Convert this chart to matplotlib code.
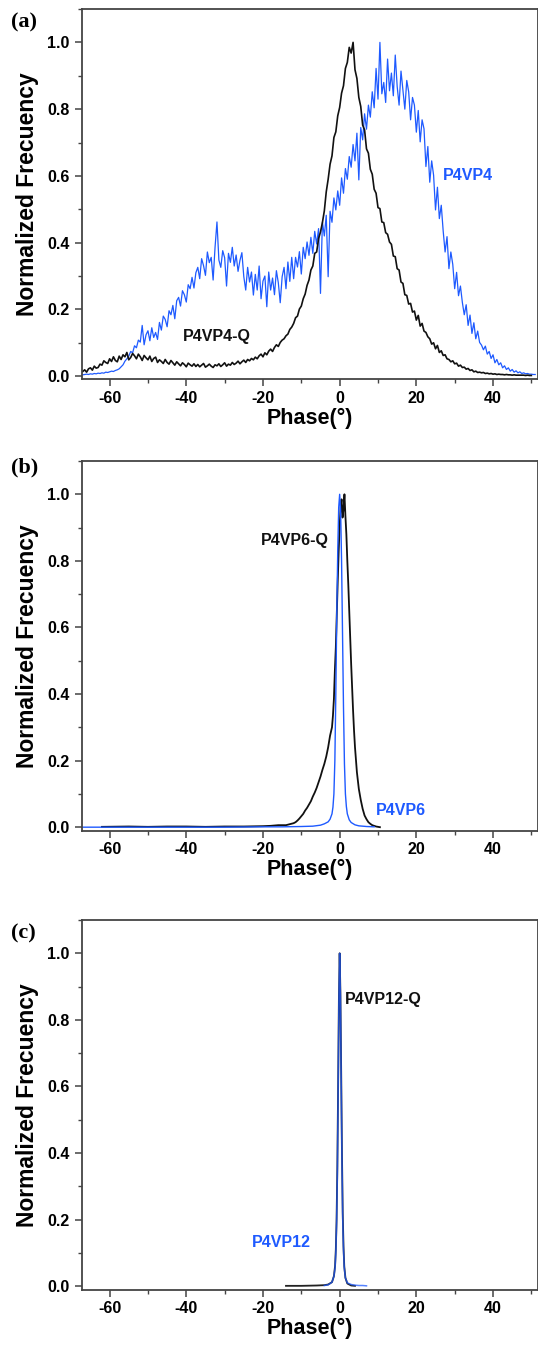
import numpy as np
import matplotlib
matplotlib.use("Agg")
import matplotlib.pyplot as plt
from matplotlib.ticker import MultipleLocator

plt.rcParams['font.family'] = ['Liberation Sans', 'DejaVu Sans']
plt.rcParams['axes.unicode_minus'] = False

BLUE = '#1E5AFF'
BLACK = '#111111'

# ---------------- panel (a): P4VP4 and P4VP4-Q phase histograms ----------------
a_q_start, a_q_step = -67.0, 0.5
a_q_freq = [
    0.014, 0.019, 0.012, 0.022, 0.025, 0.018, 0.030, 0.024, 0.026, 0.036,
    0.033, 0.046, 0.041, 0.038, 0.052, 0.044, 0.058, 0.047, 0.043, 0.060,
    0.050, 0.064, 0.058, 0.071, 0.049, 0.056, 0.068, 0.061, 0.052, 0.066,
    0.058, 0.047, 0.062, 0.055, 0.049, 0.060, 0.044, 0.053, 0.057, 0.041,
    0.049, 0.044, 0.038, 0.050, 0.041, 0.036, 0.047, 0.040, 0.033, 0.043,
    0.037, 0.031, 0.040, 0.035, 0.028, 0.039, 0.034, 0.030, 0.037, 0.029,
    0.035, 0.028, 0.033, 0.038, 0.027, 0.031, 0.036, 0.030, 0.026, 0.034,
    0.031, 0.037, 0.029, 0.034, 0.040, 0.030, 0.036, 0.033, 0.041, 0.035,
    0.039, 0.045, 0.037, 0.043, 0.048, 0.041, 0.050, 0.046, 0.053, 0.049,
    0.057, 0.052, 0.061, 0.066, 0.058, 0.070, 0.064, 0.075, 0.081, 0.074,
    0.086, 0.094, 0.089, 0.101, 0.108, 0.112, 0.121, 0.126, 0.140, 0.147,
    0.158, 0.175, 0.180, 0.201, 0.210, 0.232, 0.246, 0.272, 0.288, 0.318,
    0.330, 0.368, 0.372, 0.412, 0.432, 0.460, 0.495, 0.552, 0.590, 0.635,
    0.660, 0.715, 0.732, 0.780, 0.805, 0.848, 0.870, 0.922, 0.940, 0.985,
    0.968, 1.000, 0.918, 0.892, 0.835, 0.808, 0.752, 0.738, 0.681, 0.668,
    0.620, 0.605, 0.560, 0.548, 0.505, 0.502, 0.462, 0.460, 0.430, 0.425,
    0.402, 0.395, 0.360, 0.358, 0.322, 0.318, 0.282, 0.278, 0.244, 0.242,
    0.216, 0.218, 0.192, 0.195, 0.168, 0.182, 0.150, 0.158, 0.135, 0.131,
    0.118, 0.112, 0.096, 0.100, 0.082, 0.092, 0.071, 0.076, 0.062, 0.064,
    0.052, 0.050, 0.043, 0.046, 0.037, 0.039, 0.030, 0.033, 0.026, 0.027,
    0.021, 0.023, 0.017, 0.019, 0.013, 0.015, 0.011, 0.012, 0.010, 0.011,
    0.008, 0.009, 0.007, 0.008, 0.006, 0.007, 0.005, 0.006, 0.005, 0.005,
    0.004, 0.005, 0.004, 0.004, 0.003, 0.004, 0.003, 0.003, 0.003, 0.003,
    0.003, 0.002, 0.003, 0.002, 0.002,
]

a_p_start, a_p_step = -67.0, 0.5
a_p_freq = [
    0.004, 0.005, 0.006, 0.005, 0.007, 0.006, 0.008, 0.007, 0.009, 0.008,
    0.010, 0.009, 0.012, 0.011, 0.013, 0.015, 0.014, 0.017, 0.019, 0.022,
    0.028, 0.034, 0.045, 0.052, 0.060, 0.074, 0.070, 0.091, 0.085, 0.108,
    0.102, 0.152, 0.094, 0.124, 0.136, 0.106, 0.145, 0.116, 0.131, 0.110,
    0.161, 0.138, 0.180, 0.170, 0.148, 0.196, 0.184, 0.212, 0.172, 0.226,
    0.236, 0.210, 0.256, 0.244, 0.222, 0.274, 0.262, 0.296, 0.264, 0.310,
    0.326, 0.292, 0.352, 0.331, 0.302, 0.372, 0.340, 0.356, 0.288, 0.386,
    0.462, 0.348, 0.326, 0.376, 0.355, 0.270, 0.368, 0.341, 0.386, 0.330,
    0.363, 0.314, 0.347, 0.370, 0.298, 0.258, 0.326, 0.282, 0.312, 0.243,
    0.305, 0.258, 0.330, 0.232, 0.285, 0.300, 0.208, 0.312, 0.258, 0.294,
    0.244, 0.316, 0.280, 0.220, 0.298, 0.326, 0.262, 0.342, 0.284, 0.356,
    0.292, 0.356, 0.327, 0.373, 0.306, 0.386, 0.352, 0.402, 0.362, 0.416,
    0.368, 0.434, 0.396, 0.442, 0.248, 0.462, 0.420, 0.482, 0.298, 0.494,
    0.461, 0.534, 0.498, 0.555, 0.512, 0.594, 0.548, 0.622, 0.590, 0.658,
    0.626, 0.694, 0.645, 0.728, 0.588, 0.745, 0.708, 0.786, 0.740, 0.812,
    0.776, 0.852, 0.804, 0.922, 0.830, 1.000, 0.846, 0.880, 0.820, 0.950,
    0.855, 0.908, 0.840, 0.962, 0.868, 0.812, 0.914, 0.856, 0.800, 0.886,
    0.852, 0.768, 0.835, 0.812, 0.731, 0.796, 0.702, 0.768, 0.741, 0.628,
    0.688, 0.581, 0.645, 0.602, 0.498, 0.566, 0.472, 0.512, 0.435, 0.372,
    0.418, 0.322, 0.372, 0.335, 0.262, 0.311, 0.241, 0.270, 0.221, 0.184,
    0.214, 0.152, 0.183, 0.128, 0.160, 0.112, 0.135, 0.101, 0.093, 0.079,
    0.090, 0.066, 0.074, 0.053, 0.064, 0.040, 0.050, 0.034, 0.040, 0.025,
    0.031, 0.020, 0.025, 0.015, 0.020, 0.012, 0.016, 0.010, 0.013, 0.008,
    0.010, 0.007, 0.008, 0.006, 0.006, 0.005, 0.005,
]

# ---------------- panel (b): P4VP6 and P4VP6-Q ----------------
b_q_phase = [-62, -55, -50, -45, -40, -35, -30, -25, -20, -18, -16, -14, -13, -12,
             -11.5, -11, -10.5, -10, -9.5, -9, -8.5, -8, -7.5, -7, -6.5, -6, -5.5,
             -5, -4.5, -4, -3.5, -3, -2.5, -2, -1.75, -1.5, -1.25, -1, -0.75, -0.5,
             -0.25, 0, 0.25, 0.5, 0.75, 1, 1.25, 1.5, 1.75, 2, 2.25, 2.5, 2.75, 3,
             3.25, 3.5, 3.75, 4, 4.5, 5, 5.5, 6, 6.5, 7, 7.5, 8, 8.5, 9, 9.5, 10, 10.5]
b_q_freq = [0.001, 0.002, 0.001, 0.002, 0.002, 0.001, 0.002, 0.002, 0.003, 0.004,
            0.006, 0.006, 0.009, 0.012, 0.015, 0.020, 0.026, 0.033, 0.040, 0.050,
            0.058, 0.068, 0.078, 0.092, 0.104, 0.118, 0.135, 0.152, 0.172, 0.190,
            0.212, 0.240, 0.275, 0.300, 0.335, 0.385, 0.470, 0.540, 0.640, 0.740,
            0.830, 0.905, 0.960, 0.985, 0.930, 0.955, 1.000, 0.935, 0.880, 0.800,
            0.730, 0.650, 0.570, 0.490, 0.420, 0.350, 0.290, 0.240, 0.165, 0.115,
            0.082, 0.055, 0.035, 0.024, 0.015, 0.010, 0.006, 0.004, 0.002, 0.001,
            0.000]

b_p_phase = [-67, -50, -30, -20, -15, -10, -7, -5, -4, -3, -2.5, -2, -1.75, -1.5,
             -1.25, -1, -0.75, -0.5, -0.25, 0, 0.25, 0.5, 0.75, 1, 1.25, 1.5, 1.75,
             2, 2.5, 3, 4, 5, 7, 9]
b_p_freq = [0.000, 0.000, 0.000, 0.001, 0.001, 0.002, 0.003, 0.006, 0.010, 0.016,
            0.024, 0.040, 0.060, 0.100, 0.200, 0.400, 0.640, 0.830, 0.960, 1.000,
            0.950, 0.800, 0.580, 0.360, 0.190, 0.100, 0.062, 0.040, 0.022, 0.014,
            0.007, 0.004, 0.002, 0.001]

# ---------------- panel (c): P4VP12 and P4VP12-Q ----------------
c_q_phase = [-14, -10, -6, -4, -3, -2, -1.5, -1.2, -1.0, -0.8, -0.6, -0.4, -0.2, 0,
             0.2, 0.4, 0.6, 0.8, 1.0, 1.2, 1.5, 2, 3, 4]
c_q_freq = [0.001, 0.001, 0.002, 0.003, 0.005, 0.012, 0.030, 0.060, 0.110, 0.200,
            0.360, 0.600, 0.860, 1.000, 0.880, 0.640, 0.400, 0.220, 0.120, 0.060,
            0.025, 0.008, 0.002, 0.001]

c_p_phase = [-4, -3, -2, -1.5, -1.2, -1.0, -0.8, -0.6, -0.4, -0.2, 0, 0.2, 0.4, 0.6,
             0.8, 1.0, 1.2, 1.5, 2, 3, 4, 5, 6, 7]
c_p_freq = [0.002, 0.004, 0.012, 0.030, 0.055, 0.100, 0.190, 0.340, 0.580, 0.850,
            1.000, 0.870, 0.620, 0.380, 0.200, 0.110, 0.055, 0.025, 0.010, 0.005,
            0.003, 0.002, 0.002, 0.001]

x_ticks = [-60, -40, -20, 0, 20, 40]
y_ticks = [0.0, 0.2, 0.4, 0.6, 0.8, 1.0]


def regular(start, step, values):
    return start + step * np.arange(len(values))


W, H = 538, 1351
fig = plt.figure(figsize=(W / 100, H / 100), dpi=100)

# axes boxes in pixels: (left, top, right, bottom)
boxes = [(82, 9, 537.5, 379.5), (82, 461, 537.5, 830.5), (82, 920, 537.5, 1289.5)]
axes = []
for (l, t, r, b) in boxes:
    ax = fig.add_axes([l / W, 1 - b / H, (r - l) / W, (b - t) / H])
    axes.append(ax)


def style(ax, label, label_y):
    ax.set_xlim(-67.2, 51.6)
    ax.set_ylim(-0.01, 1.1)
    ax.set_xticks(x_ticks)
    ax.set_yticks(y_ticks)
    ax.set_yticklabels([f"{v:.1f}" for v in y_ticks])
    ax.xaxis.set_minor_locator(MultipleLocator(10))
    ax.yaxis.set_minor_locator(MultipleLocator(0.1))
    ax.tick_params(which='major', direction='out', length=5, width=1.1,
                   color='#444444', labelsize=11.5, pad=3)
    ax.tick_params(which='minor', direction='out', length=3, width=1.0,
                   color='#444444')
    ax.tick_params(axis='y', pad=4)
    for lab in ax.get_xticklabels() + ax.get_yticklabels():
        lab.set_fontweight('bold')
    for s in ax.spines.values():
        s.set_color('#444444')
        s.set_linewidth(1.3)
    ax.set_ylabel('Normalized Frecuency', fontsize=16.5, fontweight='bold', labelpad=6)
    ax.set_xlabel('Phase(°)', fontsize=15.5, fontweight='bold', labelpad=2)
    fig.text(11 / W, 1 - label_y / H, label, family='Liberation Serif',
             fontweight='bold', fontsize=16, ha='left', va='center')


# panel (a)
ax = axes[0]
ax.plot(regular(a_p_start, a_p_step, a_p_freq), a_p_freq, color=BLUE, lw=0.9)
ax.plot(regular(a_q_start, a_q_step, a_q_freq), a_q_freq, color=BLACK, lw=1.2)
ax.text(26.8, 0.60, 'P4VP4', color=BLUE, fontsize=11.5, fontweight='bold',
        ha='left', va='center')
ax.text(-40.8, 0.12, 'P4VP4-Q', color=BLACK, fontsize=11.5, fontweight='bold',
        ha='left', va='center')
style(ax, '(a)', 22)

# panel (b)
ax = axes[1]
ax.plot(b_q_phase, b_q_freq, color=BLACK, lw=1.3)
ax.plot(b_p_phase, b_p_freq, color=BLUE, lw=1.0)
ax.text(-20.6, 0.86, 'P4VP6-Q', color=BLACK, fontsize=11.5, fontweight='bold',
        ha='left', va='center')
ax.text(9.4, 0.05, 'P4VP6', color=BLUE, fontsize=11.5, fontweight='bold',
        ha='left', va='center')
style(ax, '(b)', 467)

# panel (c)
ax = axes[2]
ax.plot(c_q_phase, c_q_freq, color='#222222', lw=1.3)
ax.plot(c_p_phase, c_p_freq, color=BLUE, lw=1.1, alpha=0.75)
ax.text(1.4, 0.86, 'P4VP12-Q', color=BLACK, fontsize=11.5, fontweight='bold',
        ha='left', va='center')
ax.text(-22.8, 0.13, 'P4VP12', color=BLUE, fontsize=11.5, fontweight='bold',
        ha='left', va='center')
style(ax, '(c)', 933)

fig.savefig('out.png', dpi=100)
